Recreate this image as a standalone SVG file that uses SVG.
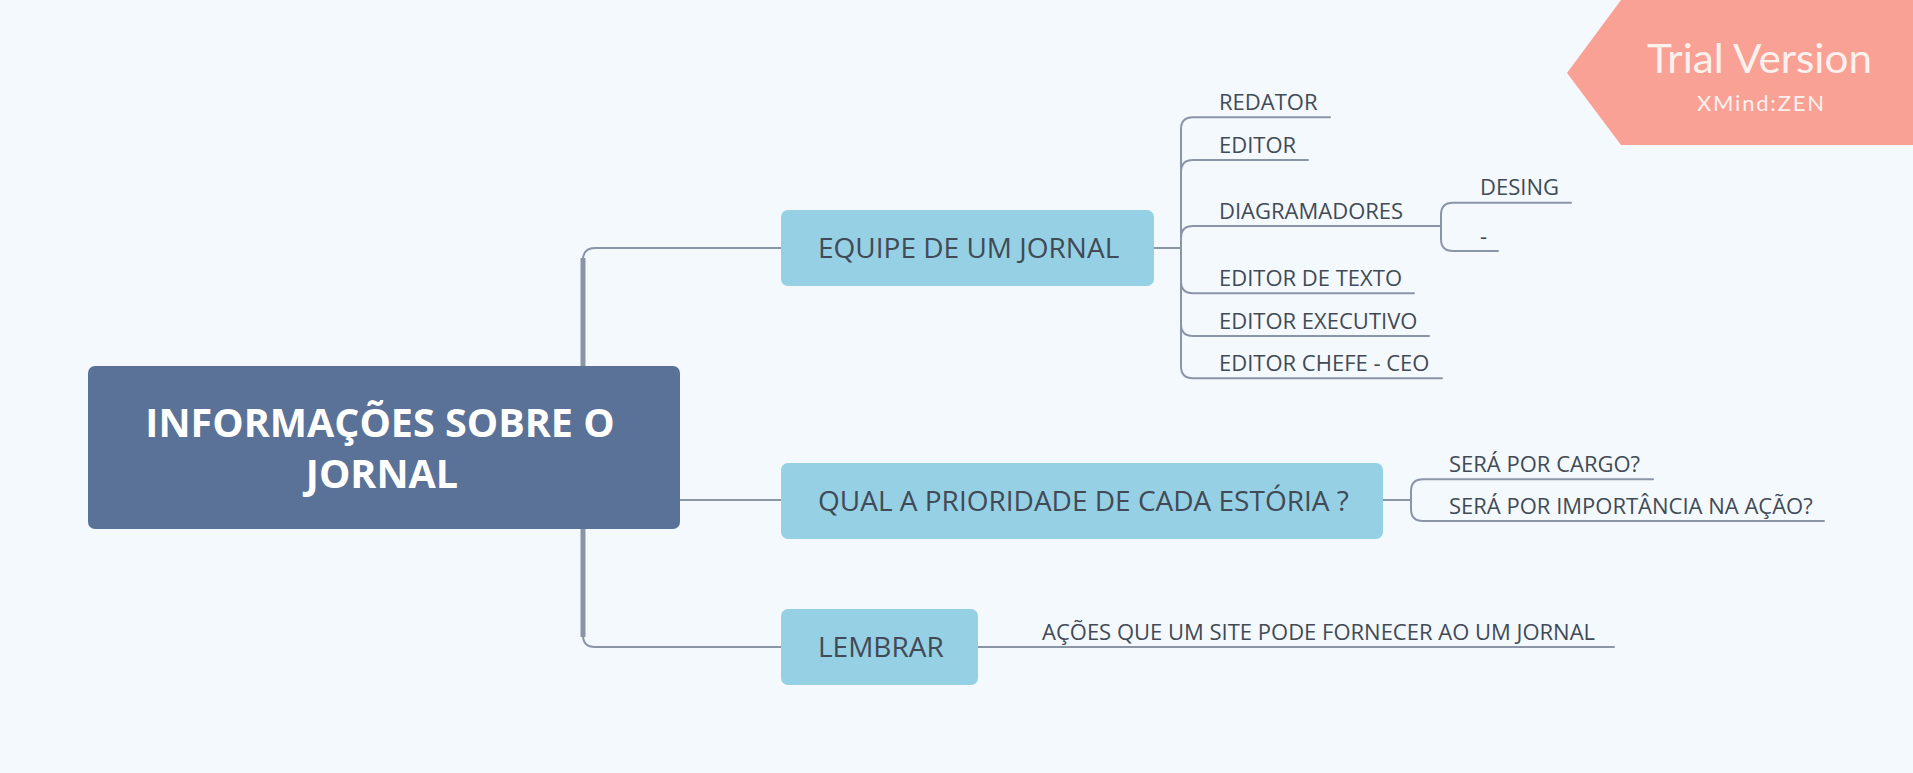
<svg xmlns="http://www.w3.org/2000/svg" width="1913" height="773" viewBox="0 0 1913 773">
<defs>
<style>
.bg{fill:#f4f9fd}
.ln{fill:none;stroke:#8b95a8;stroke-width:2;stroke-linecap:round;stroke-linejoin:round}
.trunk{fill:none;stroke:#8b95a8;stroke-width:5}
.root{fill:#5a7198}
.main{fill:#96d0e5}
.rt{font-family:"Open Sans","Liberation Sans",sans-serif;font-weight:700;font-size:39.5px;fill:#ffffff;text-anchor:middle}
.mt{font-family:"Open Sans","Liberation Sans",sans-serif;font-size:28px;fill:#414a55}
.st{font-family:"Open Sans","Liberation Sans",sans-serif;font-size:22px;fill:#414a55}
.tv{font-family:Lato,"Open Sans",sans-serif;fill:#fdf1ee}
</style>
</defs>
<rect class="bg" x="0" y="0" width="1913" height="773"/>

<g id="connectors">
<path class="ln" d="M781 248 H595 Q583 248 583 260 V635 Q583 647 595 647 H781"/>
<path class="trunk" d="M583 258 V637"/>
<path class="ln" d="M680 500 H781"/>
<path class="ln" d="M1154 248 H1181"/>
<path class="ln" d="M1181 248 V129.3 Q1181 117.3 1193 117.3 H1330"/>
<path class="ln" d="M1181 248 V172 Q1181 160 1193 160 H1308"/>
<path class="ln" d="M1181 248 V238 Q1181 226 1193 226 H1441"/>
<path class="ln" d="M1181 248 V281.3 Q1181 293.3 1193 293.3 H1414"/>
<path class="ln" d="M1181 248 V324 Q1181 336 1193 336 H1429"/>
<path class="ln" d="M1181 248 V366.3 Q1181 378.3 1193 378.3 H1442"/>
<path class="ln" d="M1441 226 V214.7 Q1441 202.7 1453 202.7 H1571"/>
<path class="ln" d="M1441 226 V239 Q1441 251 1453 251 H1498"/>
<path class="ln" d="M1383 500 H1411"/>
<path class="ln" d="M1411 500 V491.3 Q1411 479.3 1423 479.3 H1653"/>
<path class="ln" d="M1411 500 V509 Q1411 521 1423 521 H1824"/>
<path class="ln" d="M978 647 H1614"/>
</g>

<g id="root">
<rect class="root" x="88" y="366" width="592" height="163" rx="7"/>
<text class="rt" x="380" y="437">INFORMAÇÕES SOBRE O</text>
<text class="rt" x="382" y="488">JORNAL</text>
</g>

<g id="equipe">
<rect class="main" x="781" y="210" width="373" height="76" rx="7"/>
<text class="mt" x="818" y="258">EQUIPE DE UM JORNAL</text>
</g>
<g id="qual">
<rect class="main" x="781" y="463" width="602" height="76" rx="7"/>
<text class="mt" x="818" y="511">QUAL A PRIORIDADE DE CADA ESTÓRIA ?</text>
</g>
<g id="lembrar">
<rect class="main" x="781" y="609" width="197" height="76" rx="7"/>
<text class="mt" x="818" y="657">LEMBRAR</text>
</g>

<g id="redator"><text class="st" x="1219" y="110">REDATOR</text></g>
<g id="editor"><text class="st" x="1219" y="152.5">EDITOR</text></g>
<g id="diagramadores"><text class="st" x="1219" y="218.5">DIAGRAMADORES</text></g>
<g id="desing"><text class="st" x="1480" y="195">DESING</text></g>
<g id="dash"><text class="st" x="1480" y="243.5">-</text></g>
<g id="editor-texto"><text class="st" x="1219" y="286">EDITOR DE TEXTO</text></g>
<g id="editor-executivo"><text class="st" x="1219" y="328.5">EDITOR EXECUTIVO</text></g>
<g id="editor-chefe"><text class="st" x="1219" y="371">EDITOR CHEFE - CEO</text></g>
<g id="cargo"><text class="st" x="1449" y="472">SERÁ POR CARGO?</text></g>
<g id="importancia"><text class="st" x="1449" y="513.5">SERÁ POR IMPORTÂNCIA NA AÇÃO?</text></g>
<g id="acoes"><text class="st" x="1042" y="640">AÇÕES QUE UM SITE PODE FORNECER AO UM JORNAL</text></g>

<g id="trial">
<polygon points="1621,0 1913,0 1913,145 1621,145 1567,73" fill="#f9a195"/>
<text class="tv" x="1647" y="73" font-size="40" textLength="225" lengthAdjust="spacingAndGlyphs">Trial Version</text>
<text class="tv" x="1697" y="111" font-size="22" textLength="127" lengthAdjust="spacing">XMind:ZEN</text>
</g>
</svg>
